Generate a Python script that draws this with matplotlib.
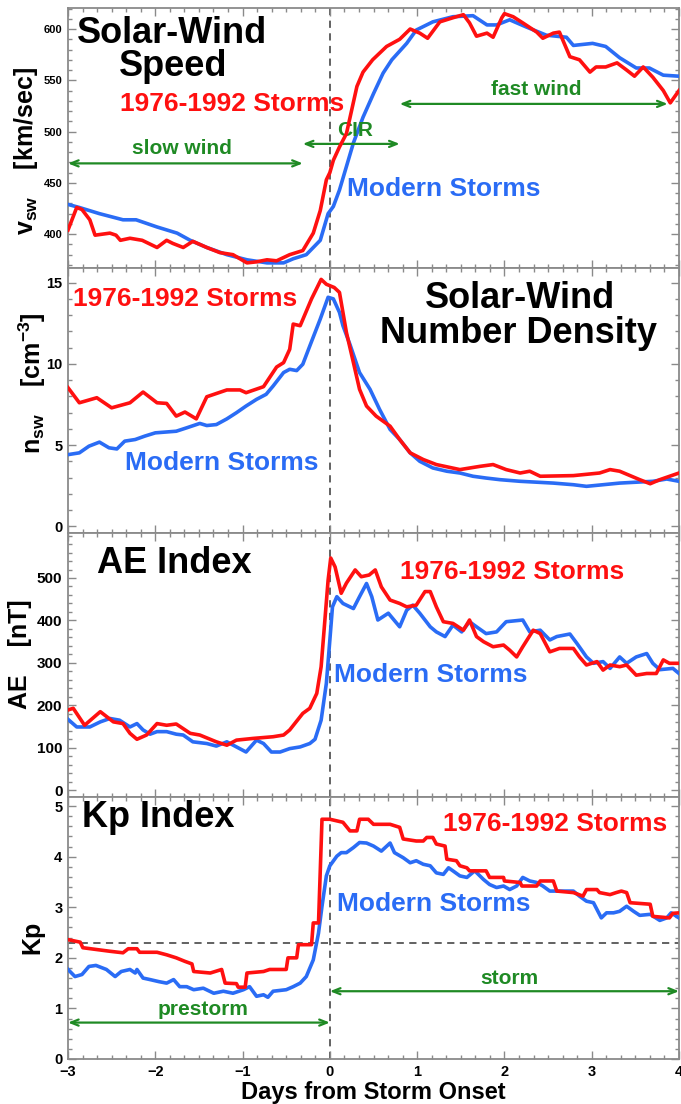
import matplotlib
matplotlib.use("Agg")
import matplotlib.pyplot as plt
from matplotlib.ticker import MultipleLocator

plt.rcParams['font.family'] = ['Liberation Sans', 'DejaVu Sans']
plt.rcParams['font.weight'] = 'bold'
plt.rcParams['mathtext.fontset'] = 'custom'
plt.rcParams['mathtext.rm'] = 'Liberation Sans:bold'
plt.rcParams['mathtext.it'] = 'Liberation Sans:bold'
plt.rcParams['mathtext.bf'] = 'Liberation Sans:bold'
plt.rcParams['mathtext.default'] = 'rm'

# ---------------- data ----------------
# Solar-wind speed [km/s]
v_old_t = [-3.0,-2.9,-2.84,-2.75,-2.69,-2.52,-2.45,-2.4,-2.29,-2.15,-1.98,-1.87,-1.8,-1.68,-1.57,-1.41,-1.26,-1.11,-0.95,-0.84,-0.72,-0.61,-0.46,-0.31,-0.19,-0.11,-0.04,0.0,0.04,0.11,0.19,0.25,0.31,0.38,0.49,0.65,0.8,0.92,1.03,1.12,1.26,1.41,1.53,1.6,1.68,1.8,1.87,1.97,2.0,2.1,2.21,2.37,2.44,2.56,2.63,2.75,2.86,2.98,3.05,3.16,3.29,3.4,3.49,3.59,3.7,3.82,3.9,4.0]
v_old = [404,426,424,414,399,401,399,394,396,394,387,394,391,387,393,387,382,380,372,373,375,374,380,384,401,423,453,460,472,485,498,521,544,558,570,583,590,600,596,591,607,611,614,606,593,596,592,611,615,612,606,597,591,596,597,573,570,558,563,563,567,560,554,563,553,540,528,540]
v_new_t = [-3.0,-2.87,-2.64,-2.37,-2.22,-1.98,-1.75,-1.6,-1.41,-1.18,-0.95,-0.72,-0.53,-0.42,-0.27,-0.11,-0.02,0.04,0.11,0.19,0.27,0.38,0.5,0.61,0.71,0.88,0.99,1.18,1.41,1.64,1.8,1.91,2.06,2.25,2.48,2.71,2.79,3.01,3.16,3.32,3.51,3.66,3.82,4.0]
v_new = [429,426,420,414,414,407,401,394,387,380,375,372,372,376,380,394,420,427,443,466,489,514,537,557,570,586,599,607,612,613,604,604,609,602,594,592,584,586,583,572,562,562,555,554]

# Solar-wind number density [cm^-3]
n_old_t = [-3.0,-2.87,-2.67,-2.5,-2.29,-2.14,-1.98,-1.87,-1.76,-1.66,-1.53,-1.41,-1.18,-1.03,-0.96,-0.76,-0.61,-0.53,-0.46,-0.42,-0.34,-0.21,-0.1,-0.04,0.05,0.11,0.19,0.27,0.34,0.42,0.53,0.69,0.8,0.92,1.07,1.22,1.49,1.72,1.87,2.02,2.18,2.29,2.41,2.79,3.09,3.21,3.32,3.55,3.67,3.78,4.0]
n_old = [8.54,7.61,7.92,7.3,7.61,8.27,7.61,7.57,6.79,7.04,6.62,7.98,8.4,8.4,8.23,8.6,9.81,10.08,10.9,12.45,12.35,14.0,15.2,14.9,14.7,14.4,11.93,10.08,8.44,7.41,6.79,6.17,5.35,4.53,4.12,3.81,3.5,3.7,3.81,3.5,3.29,3.4,3.09,3.13,3.29,3.5,3.4,2.88,2.63,2.88,3.29]
n_new_t = [-3.0,-2.87,-2.76,-2.64,-2.53,-2.44,-2.35,-2.23,-2.12,-2.0,-1.76,-1.64,-1.49,-1.41,-1.3,-1.18,-1.07,-0.96,-0.84,-0.73,-0.65,-0.53,-0.46,-0.38,-0.31,-0.23,-0.11,-0.02,0.04,0.11,0.15,0.23,0.34,0.46,0.57,0.69,0.8,0.92,1.03,1.18,1.34,1.49,1.64,1.79,1.95,2.18,2.56,2.79,2.94,3.13,3.32,3.7,3.86,4.0]
n_new = [4.42,4.53,4.94,5.19,4.84,4.77,5.25,5.35,5.56,5.76,5.86,6.07,6.34,6.21,6.27,6.62,7.0,7.41,7.82,8.13,8.64,9.47,9.67,9.59,9.98,11.1,12.76,14.1,14.0,13.17,12.35,11.2,9.47,8.44,7.2,5.97,5.35,4.53,4.01,3.6,3.4,3.29,3.09,2.98,2.88,2.78,2.67,2.57,2.47,2.57,2.67,2.78,2.92,2.78]

# AE index [nT]
ae_old_t = [-3.0,-2.94,-2.81,-2.63,-2.48,-2.37,-2.29,-2.21,-2.1,-1.98,-1.87,-1.76,-1.6,-1.49,-1.3,-1.18,-1.07,-0.88,-0.65,-0.53,-0.46,-0.31,-0.23,-0.15,-0.1,-0.06,-0.02,0.01,0.06,0.13,0.19,0.29,0.36,0.45,0.52,0.59,0.69,0.8,0.88,0.99,1.09,1.15,1.22,1.3,1.41,1.53,1.6,1.68,1.76,1.87,1.99,2.06,2.14,2.21,2.33,2.41,2.52,2.63,2.79,2.86,2.94,3.06,3.13,3.21,3.32,3.4,3.51,3.63,3.74,3.82,3.89,4.0]
ae_old = [189,193,153,185,161,157,134,120,130,157,153,156,134,130,114,106,118,122,126,130,142,181,193,228,291,393,495,547,526,464,488,519,503,507,519,479,448,440,432,436,468,468,432,397,393,377,401,362,350,338,342,330,314,338,377,369,326,334,334,314,295,303,283,295,291,295,271,275,275,307,299,299]
ae_new_t = [-3.0,-2.9,-2.75,-2.63,-2.52,-2.41,-2.29,-2.21,-2.14,-2.06,-1.98,-1.87,-1.76,-1.68,-1.57,-1.41,-1.3,-1.18,-1.07,-0.96,-0.84,-0.76,-0.67,-0.57,-0.46,-0.34,-0.23,-0.17,-0.1,-0.04,0.0,0.03,0.08,0.15,0.27,0.34,0.42,0.48,0.55,0.67,0.8,0.88,0.95,1.03,1.15,1.22,1.32,1.41,1.51,1.6,1.68,1.79,1.91,2.02,2.21,2.29,2.41,2.52,2.6,2.75,2.83,2.94,3.02,3.13,3.21,3.32,3.4,3.51,3.63,3.7,3.78,3.93,4.0]
ae_new = [167,149,149,161,169,165,149,157,142,132,138,138,132,130,114,110,104,114,102,90,118,110,90,90,98,102,110,120,165,252,354,432,456,440,428,456,487,456,401,417,385,424,436,417,385,373,362,389,373,397,385,369,373,397,401,373,377,354,362,368,346,314,299,303,287,314,299,314,322,299,284,287,275]

# Kp index
kp_old_t = [-3.0,-2.86,-2.83,-2.52,-2.37,-2.31,-2.21,-2.18,-1.98,-1.87,-1.76,-1.66,-1.58,-1.56,-1.37,-1.24,-1.2,-1.07,-1.05,-0.97,-0.95,-0.76,-0.69,-0.5,-0.48,-0.38,-0.36,-0.21,-0.19,-0.13,-0.09,0.0,0.15,0.23,0.31,0.34,0.44,0.5,0.69,0.8,0.84,0.99,1.07,1.11,1.18,1.22,1.32,1.34,1.45,1.49,1.57,1.6,1.79,1.83,1.99,2.0,2.18,2.2,2.37,2.41,2.56,2.6,2.79,2.9,2.94,3.06,3.09,3.21,3.28,3.34,3.4,3.44,3.67,3.7,3.89,3.93,4.0]
kp_old = [2.36,2.31,2.2,2.13,2.1,2.18,2.18,2.11,2.11,2.06,2.0,1.93,1.88,1.73,1.7,1.77,1.5,1.49,1.42,1.42,1.7,1.73,1.77,1.77,2.0,2.0,2.26,2.26,2.69,2.69,4.74,4.74,4.68,4.51,4.51,4.74,4.74,4.64,4.64,4.58,4.35,4.31,4.31,4.38,4.38,4.25,4.21,3.95,3.92,3.82,3.78,3.72,3.72,3.59,3.59,3.52,3.49,3.42,3.42,3.52,3.52,3.32,3.29,3.22,3.35,3.35,3.29,3.25,3.29,3.32,3.29,3.09,3.06,2.82,2.79,2.88,2.89]
kp_new_t = [-3.0,-2.92,-2.84,-2.76,-2.68,-2.56,-2.46,-2.39,-2.29,-2.23,-2.21,-2.14,-2.06,-1.96,-1.87,-1.79,-1.72,-1.64,-1.56,-1.45,-1.33,-1.22,-1.11,-0.99,-0.92,-0.84,-0.76,-0.71,-0.65,-0.5,-0.42,-0.34,-0.27,-0.19,-0.13,-0.09,-0.04,0.0,0.08,0.13,0.19,0.27,0.34,0.42,0.5,0.59,0.69,0.74,0.84,0.92,0.99,1.07,1.15,1.22,1.3,1.36,1.41,1.49,1.57,1.66,1.76,1.83,1.91,1.99,2.06,2.14,2.21,2.29,2.37,2.44,2.52,2.71,2.79,2.86,2.94,3.02,3.11,3.17,3.25,3.32,3.4,3.48,3.55,3.67,3.78,3.86,3.91,4.0]
kp_new = [1.77,1.63,1.67,1.83,1.85,1.77,1.63,1.73,1.77,1.7,1.77,1.6,1.57,1.53,1.5,1.57,1.43,1.43,1.37,1.4,1.3,1.34,1.3,1.37,1.43,1.24,1.27,1.22,1.34,1.37,1.43,1.5,1.63,1.96,2.49,3.02,3.62,3.82,4.01,4.08,4.08,4.18,4.28,4.27,4.21,4.11,4.27,4.08,3.98,3.88,3.92,3.85,3.82,3.68,3.65,3.78,3.72,3.62,3.59,3.72,3.55,3.45,3.39,3.42,3.35,3.42,3.59,3.52,3.49,3.42,3.32,3.32,3.32,3.22,3.12,3.09,2.79,2.89,2.89,2.92,3.02,2.92,2.84,2.86,2.74,2.79,2.89,2.79]

kp_storm_level = 2.3
x_ticks = [-3, -2, -1, 0, 1, 2, 3, 4]

# ---------------- style ----------------
RED = '#ff1010'
BLUE = '#2a6cf5'
GREEN = '#1f8a24'
FRAME = '#8a8a8a'
DASH = '#555555'
LW = 2.6

fig = plt.figure(figsize=(6.81, 11.04), dpi=100)
W, H = 681.0, 1104.0
left_px, right_px = 68, 679
panels_px = [(8, 268), (268, 533), (533, 797), (797, 1059)]
axes = []
for top, bot in panels_px:
    ax = fig.add_axes([left_px / W, 1 - bot / H, (right_px - left_px) / W, (bot - top) / H])
    axes.append(ax)

ylims = [(367, 620.5), (-0.4, 15.9), (-16, 606), (0, 5.18)]
yticks = [[400, 450, 500, 550, 600], [0, 5, 10, 15], [0, 100, 200, 300, 400, 500], [0, 1, 2, 3, 4, 5]]
yminor = [10, 1, 20, 0.2]
ytick_fs = [8, 10.5, 11, 10.5]

for i, ax in enumerate(axes):
    ax.set_xlim(-3, 4)
    ax.set_ylim(*ylims[i])
    ax.set_xticks(x_ticks)
    ax.xaxis.set_minor_locator(MultipleLocator(1 / 6))
    ax.set_yticks(yticks[i])
    ax.yaxis.set_minor_locator(MultipleLocator(yminor[i]))
    ax.tick_params(which='both', direction='in', top=True, right=True, color=FRAME, width=1.0)
    ax.tick_params(which='major', length=6)
    ax.tick_params(which='minor', length=3)
    ax.tick_params(axis='y', labelsize=ytick_fs[i], pad=4)
    for lab in ax.get_yticklabels():
        lab.set_fontweight('bold')
    for s in ax.spines.values():
        s.set_color(FRAME)
        s.set_linewidth(1.3)
    ax.axvline(0, color=DASH, lw=1.3, ls=(0, (4, 3)), zorder=1)
    if i < 3:
        ax.tick_params(axis='x', labelbottom=False)
    else:
        ax.tick_params(axis='x', labelsize=10.5, pad=4)
        for lab in ax.get_xticklabels():
            lab.set_fontweight('bold')

ax1, ax2, ax3, ax4 = axes

def arrow(ax, x0, x1, y):
    ax.annotate('', xy=(x1, y), xytext=(x0, y),
                arrowprops=dict(arrowstyle='<->,head_length=0.55,head_width=0.22',
                                color=GREEN, lw=1.6, shrinkA=0, shrinkB=0))

# Panel 1: speed
ax1.plot(v_new_t, v_new, color=BLUE, lw=LW, zorder=3)
ax1.plot(v_old_t, v_old, color=RED, lw=LW, zorder=4)
ax1.text(-1.81, 596, 'Solar-Wind', fontsize=26, fontweight='bold', ha='center', va='center')
ax1.text(-1.80, 563, 'Speed', fontsize=26, fontweight='bold', ha='center', va='center')
ax1.text(-1.12, 527, '1976-1992 Storms', fontsize=19, fontweight='bold', color=RED, ha='center', va='center')
ax1.text(1.31, 444, 'Modern Storms', fontsize=19, fontweight='bold', color=BLUE, ha='center', va='center')
arrow(ax1, -3.0, -0.31, 469)
ax1.text(-1.70, 484, 'slow wind', fontsize=15, fontweight='bold', color=GREEN, ha='center', va='center')
arrow(ax1, -0.31, 0.80, 488)
ax1.text(0.29, 501, 'CIR', fontsize=15, fontweight='bold', color=GREEN, ha='center', va='center')
arrow(ax1, 0.80, 3.87, 527)
ax1.text(2.37, 541, 'fast wind', fontsize=15, fontweight='bold', color=GREEN, ha='center', va='center')
ax1.set_ylabel('v$_{sw}$    [km/sec]', fontsize=18, fontweight='bold', va='center')
ax1.yaxis.set_label_coords(-0.068, 0.45)

# Panel 2: density
ax2.plot(n_new_t, n_new, color=BLUE, lw=LW, zorder=3)
ax2.plot(n_old_t, n_old, color=RED, lw=LW, zorder=4)
ax2.text(-1.66, 14.0, '1976-1992 Storms', fontsize=19, fontweight='bold', color=RED, ha='center', va='center')
ax2.text(-1.24, 3.9, 'Modern Storms', fontsize=19, fontweight='bold', color=BLUE, ha='center', va='center')
ax2.text(2.18, 14.0, 'Solar-Wind', fontsize=26, fontweight='bold', ha='center', va='center')
ax2.text(2.16, 11.85, 'Number Density', fontsize=26, fontweight='bold', ha='center', va='center')
ax2.set_ylabel('n$_{sw}$    [cm$^{-3}$]', fontsize=18, fontweight='bold', va='center')
ax2.yaxis.set_label_coords(-0.058, 0.566)

# Panel 3: AE
ax3.plot(ae_new_t, ae_new, color=BLUE, lw=LW, zorder=3)
ax3.plot(ae_old_t, ae_old, color=RED, lw=LW, zorder=4)
ax3.text(-2.67, 535, 'AE Index', fontsize=26, fontweight='bold', ha='left', va='center')
ax3.text(2.09, 514, '1976-1992 Storms', fontsize=19, fontweight='bold', color=RED, ha='center', va='center')
ax3.text(1.16, 271, 'Modern Storms', fontsize=19, fontweight='bold', color=BLUE, ha='center', va='center')
ax3.set_ylabel('AE    [nT]', fontsize=18, fontweight='bold', va='center')
ax3.yaxis.set_label_coords(-0.078, 0.54)

# Panel 4: Kp
ax4.axhline(kp_storm_level, color=DASH, lw=1.3, ls=(0, (4, 3)), zorder=1)
ax4.plot(kp_new_t, kp_new, color=BLUE, lw=LW, zorder=3)
ax4.plot(kp_old_t, kp_old, color=RED, lw=LW, zorder=4)
ax4.text(-2.84, 4.78, 'Kp Index', fontsize=26, fontweight='bold', ha='left', va='center')
ax4.text(2.58, 4.64, '1976-1992 Storms', fontsize=19, fontweight='bold', color=RED, ha='center', va='center')
ax4.text(1.19, 3.06, 'Modern Storms', fontsize=19, fontweight='bold', color=BLUE, ha='center', va='center')
arrow(ax4, -3.0, 0.0, 0.72)
ax4.text(-1.45, 0.97, 'prestorm', fontsize=15, fontweight='bold', color=GREEN, ha='center', va='center')
arrow(ax4, 0.0, 4.0, 1.34)
ax4.text(2.06, 1.6, 'storm', fontsize=15, fontweight='bold', color=GREEN, ha='center', va='center')
ax4.set_ylabel('Kp', fontsize=18, fontweight='bold', va='center')
ax4.yaxis.set_label_coords(-0.058, 0.466)
ax4.set_xlabel('Days from Storm Onset', fontsize=17, fontweight='bold', labelpad=2)

fig.savefig('out.png', dpi=100)
